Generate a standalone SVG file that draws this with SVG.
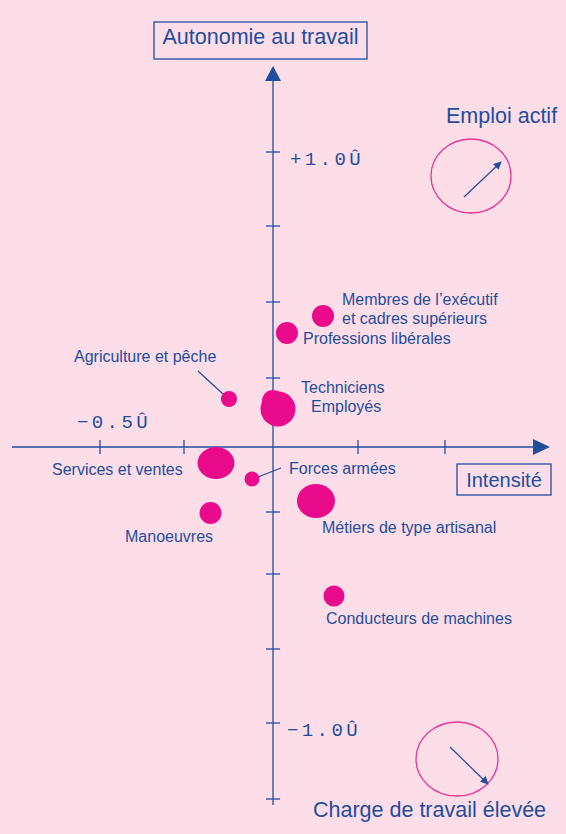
<svg xmlns="http://www.w3.org/2000/svg" width="566" height="834" viewBox="0 0 566 834">
<defs>
<style>
.lbl{font-family:"Liberation Sans",Arial,sans-serif;font-size:16px;fill:#1f4e9f}
.big{font-family:"Liberation Sans",Arial,sans-serif;font-size:21.5px;fill:#1f4e9f}
.num{font-family:"Liberation Mono","Courier New",monospace;font-size:19px;fill:#1f4e9f;letter-spacing:3.4px}
.ax{stroke:#1f4e9f;stroke-width:1.3;fill:none}
.tk{stroke:#1f4e9f;stroke-width:1.3}
.bub{fill:#ea0a8c}
.ring{fill:none;stroke:#e8358f;stroke-width:1.3}
.lead{stroke:#1f4e9f;stroke-width:1.2;fill:none}
</style>
<marker id="ah" viewBox="0 0 10 10" refX="9" refY="5" markerWidth="8" markerHeight="8" orient="auto" markerUnits="userSpaceOnUse">
<path d="M0,0 L10,5 L0,10 z" fill="#1f4e9f"/>
</marker>
</defs>
<rect width="566" height="834" fill="#fcdde8"/>
<g id="axes">
<line class="ax" x1="273" y1="80" x2="273" y2="805"/>
<path d="M265,81 L273,66 L281,81 z" fill="#1f4e9f"/>
<line class="ax" x1="12" y1="447" x2="534" y2="447"/>
<path d="M533,439 L550,447 L533,455 z" fill="#1f4e9f"/>
<g class="tk">
<line x1="266" y1="152" x2="280" y2="152"/>
<line x1="266" y1="226" x2="280" y2="226"/>
<line x1="266" y1="302" x2="280" y2="302"/>
<line x1="266" y1="378" x2="280" y2="378"/>
<line x1="266" y1="512" x2="280" y2="512"/>
<line x1="266" y1="574" x2="280" y2="574"/>
<line x1="266" y1="649" x2="280" y2="649"/>
<line x1="266" y1="723" x2="280" y2="723"/>
<line x1="266" y1="799" x2="280" y2="799"/>
<line x1="100" y1="440" x2="100" y2="454"/>
<line x1="184" y1="440" x2="184" y2="454"/>
<line x1="358" y1="440" x2="358" y2="454"/>
<line x1="445" y1="440" x2="445" y2="454"/>
</g>
<text class="num" x="290" y="165">+1.0Û</text>
<text class="num" x="77" y="428">−0.5Û</text>
<text class="num" x="287" y="736">−1.0Û</text>
</g>
<g id="title-autonomie">
<rect x="154" y="22" width="213" height="37" fill="none" stroke="#1f4e9f" stroke-width="1.3"/>
<text class="big" x="260.5" y="44" text-anchor="middle">Autonomie au travail</text>
</g>
<g id="title-intensite">
<rect x="457" y="464" width="94" height="31" fill="none" stroke="#1f4e9f" stroke-width="1.3"/>
<text class="big" x="504" y="487" text-anchor="middle" style="font-size:20px">Intensité</text>
</g>
<g id="emploi-actif">
<text class="big" x="446" y="123">Emploi actif</text>
<ellipse class="ring" cx="471" cy="176" rx="40" ry="37"/>
<line class="lead" x1="464" y1="197" x2="501" y2="162" marker-end="url(#ah)"/>
</g>
<g id="charge-travail">
<ellipse class="ring" cx="457" cy="759" rx="41" ry="37"/>
<line class="lead" x1="450" y1="747" x2="488" y2="784" marker-end="url(#ah)"/>
<text class="big" x="313" y="817">Charge de travail élevée</text>
</g>
<g id="connectors">
<line class="lead" x1="198" y1="371" x2="223" y2="394"/>
<line class="lead" x1="258" y1="477" x2="281" y2="468"/>
</g>
<g id="membres">
<circle class="bub" cx="323" cy="316" r="11"/>
<text class="lbl" x="342" y="305">Membres de l’exécutif</text>
<text class="lbl" x="342" y="324">et cadres supérieurs</text>
</g>
<g id="professions">
<circle class="bub" cx="287" cy="333" r="11"/>
<text class="lbl" x="303" y="344">Professions libérales</text>
</g>
<g id="agriculture">
<circle class="bub" cx="229" cy="399" r="8"/>
<text class="lbl" x="74" y="362">Agriculture et pêche</text>
</g>
<g id="techniciens">
<circle class="bub" cx="273" cy="401" r="11"/>
<text class="lbl" x="301" y="393">Techniciens</text>
</g>
<g id="employes">
<circle class="bub" cx="278" cy="409" r="17.5"/>
<text class="lbl" x="311" y="412">Employés</text>
</g>
<g id="services">
<ellipse class="bub" cx="216" cy="463" rx="18.5" ry="16"/>
<text class="lbl" x="52" y="475">Services et ventes</text>
</g>
<g id="forces">
<circle class="bub" cx="252" cy="479" r="7.5"/>
<text class="lbl" x="289" y="474">Forces armées</text>
</g>
<g id="manoeuvres">
<circle class="bub" cx="210.5" cy="513" r="11"/>
<text class="lbl" x="125" y="542">Manoeuvres</text>
</g>
<g id="metiers">
<ellipse class="bub" cx="316" cy="501" rx="19" ry="17"/>
<text class="lbl" x="322" y="533">Métiers de type artisanal</text>
</g>
<g id="conducteurs">
<circle class="bub" cx="334" cy="596" r="10.5"/>
<text class="lbl" x="326" y="624">Conducteurs de machines</text>
</g>
</svg>
